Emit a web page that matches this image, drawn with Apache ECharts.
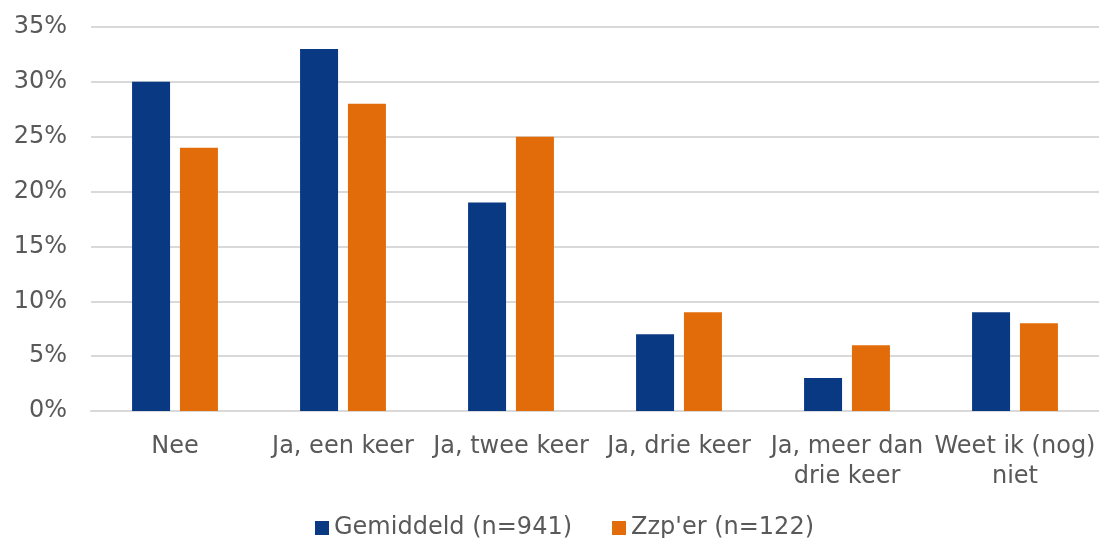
<!DOCTYPE html>
<html>
<head>
<meta charset="utf-8">
<script src="https://cdn.jsdelivr.net/npm/echarts@6/dist/echarts.min.js"></script>
<style>
  html, body { margin: 0; padding: 0; background: #fff; }
  #chart { width: 1099px; height: 538px; }
</style>
</head>
<body>
<div id="chart"></div>
<script>
var categories = ['Nee', 'Ja, een keer', 'Ja, twee keer', 'Ja, drie keer', 'Ja, meer dan\ndrie keer', 'Weet ik (nog)\nniet'];
var gemiddeld = [30, 33, 19, 7, 3, 9];
var zzper = [24, 28, 25, 9, 6, 8];
var seriesNames = ['Gemiddeld (n=941)', "Zzp'er (n=122)"];

var chart = echarts.init(document.getElementById('chart'));
var font = 'DejaVu Sans, Verdana, sans-serif';

chart.setOption({
  animation: false,
  textStyle: { fontFamily: font },
  grid: { left: 91, right: 0, top: 27, bottom: 127 },
  legend: {
    top: 511,
    left: 310,
    itemWidth: 14,
    itemHeight: 14,
    itemGap: 40,
    icon: 'rect',
    textStyle: { fontSize: 24, color: '#595959', fontFamily: font },
    data: seriesNames
  },
  xAxis: {
    type: 'category',
    data: categories,
    axisLine: { lineStyle: { color: '#d9d9d9', width: 2 } },
    axisTick: { show: false },
    axisLabel: {
      color: '#595959',
      fontSize: 24,
      fontFamily: font,
      margin: 21,
      lineHeight: 30,
      interval: 0
    }
  },
  yAxis: {
    type: 'value',
    min: 0,
    max: 35,
    interval: 5,
    axisLabel: {
      formatter: '{value}%',
      color: '#595959',
      fontSize: 24,
      fontFamily: font,
      margin: 24
    },
    axisLine: { show: false },
    axisTick: { show: false },
    splitLine: { lineStyle: { color: '#d9d9d9', width: 2 } }
  },
  series: [
    {
      name: seriesNames[0],
      type: 'bar',
      data: gemiddeld,
      barWidth: 38,
      barGap: '26%',
      itemStyle: { color: '#0a3984' }
    },
    {
      name: seriesNames[1],
      type: 'bar',
      data: zzper,
      barWidth: 38,
      barGap: '26%',
      itemStyle: { color: '#e36c0a' }
    }
  ]
});
</script>
</body>
</html>
